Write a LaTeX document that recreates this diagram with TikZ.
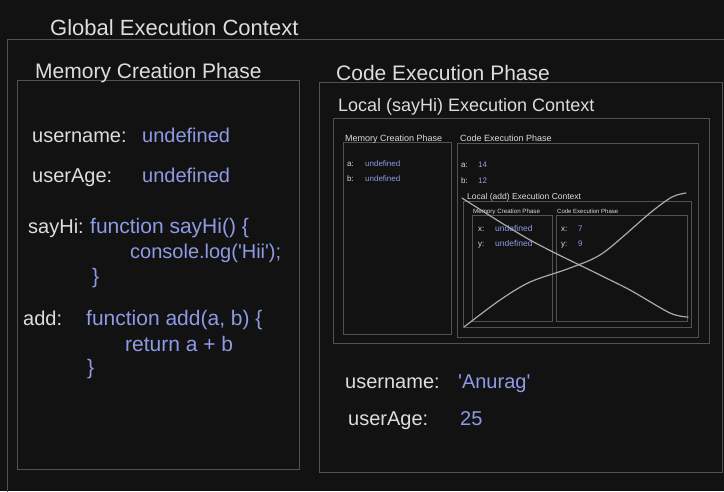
\documentclass[tikz,border=0pt]{standalone}
\usepackage{fontspec}
\setmainfont{Liberation Sans}
\usetikzlibrary{fit}
\definecolor{bg}{HTML}{121212}
\definecolor{boxline}{HTML}{525252}
\definecolor{txt}{HTML}{DDDDDD}
\definecolor{val}{HTML}{8E9AE6}
\definecolor{cross}{HTML}{AAAAAA}
\tikzset{
  box/.style={draw=boxline, line width=1pt, inner sep=0pt, fill=none},
  lbl/.style={text=txt, anchor=base west, inner sep=0pt},
  vl/.style={text=val, anchor=base west, inner sep=0pt},
  strike/.style={draw=cross, line width=1.2pt, line cap=round, line join=round},
}
\newcommand{\fs}[1]{\fontsize{#1}{#1}\selectfont}
\newcommand{\q}{\textquotesingle}
\begin{document}
\begin{tikzpicture}[x=1pt,y=-1pt]
\fill[bg] (0,0) rectangle (724,491);
\useasboundingbox (0,0) rectangle (724,491);
% boxes
\coordinate (g1) at (7,39); \coordinate (g2) at (740,500);
\node[box, fit=(g1)(g2)] (gec) {};
\coordinate (m1) at (17,80); \coordinate (m2) at (299,469);
\node[box, fit=(m1)(m2)] (mcp) {};
\coordinate (c1) at (319,82); \coordinate (c2) at (722,472);
\node[box, fit=(c1)(c2)] (cep) {};
\coordinate (l1) at (333,118); \coordinate (l2) at (709,343);
\node[box, fit=(l1)(l2)] (lsay) {};
\coordinate (sm1) at (343,142); \coordinate (sm2) at (451,334);
\node[box, fit=(sm1)(sm2)] (smcp) {};
\coordinate (sc1) at (457,143); \coordinate (sc2) at (698,337);
\node[box, fit=(sc1)(sc2)] (scep) {};
\coordinate (a1) at (463,201); \coordinate (a2) at (691,327);
\node[box, fit=(a1)(a2)] (ladd) {};
\coordinate (am1) at (472,215); \coordinate (am2) at (552,321);
\node[box, fit=(am1)(am2)] (amcp) {};
\coordinate (ac1) at (556,215); \coordinate (ac2) at (687,321);
\node[box, fit=(ac1)(ac2)] (acep) {};
% titles
\node[lbl, font=\fs{22}] (tg) at (50,35) {Global Execution Context};
\node[lbl, font=\fs{21}] (tm) at (35,78) {Memory Creation Phase};
\node[lbl, font=\fs{21}] (tc) at (336,80) {Code Execution Phase};
\node[lbl, font=\fs{18}] (tl) at (338,111) {Local (sayHi) Execution Context};
% global memory
\node[lbl, font=\fs{20}] (un) at (32,142) {username:};
\node[vl, font=\fs{20}] (unv) at (142,142) {undefined};
\node[lbl, font=\fs{20}] (ua) at (32,182) {userAge:};
\node[vl, font=\fs{20}] (uav) at (142,182) {undefined};
\node[lbl, font=\fs{20}] (sh) at (28,233) {sayHi:};
\node[vl, font=\fs{21}] (sh1) at (90,233) {function sayHi() \{};
\node[vl, font=\fs{20}] (sh2) at (130,258) {console.log(\q Hii\q);};
\node[vl, font=\fs{21}] (sh3) at (92,283) {\}};
\node[lbl, font=\fs{20}] (ad) at (23,325) {add:};
\node[vl, font=\fs{21}] (ad1) at (86,325) {function add(a, b) \{};
\node[vl, font=\fs{21}] (ad2) at (125,351) {return a + b};
\node[vl, font=\fs{21}] (ad3) at (87,374) {\}};
% global code execution
\node[lbl, font=\fs{20}] (bun) at (345,388) {username:};
\node[vl, font=\fs{20}] (bunv) at (458,388) {\q Anurag\q};
\node[lbl, font=\fs{20}] (bua) at (348,425) {userAge:};
\node[vl, font=\fs{20}] (buav) at (460,425) {25};
% sayHi context
\node[lbl, font=\fs{9}] (stm) at (345,141) {Memory Creation Phase};
\node[lbl, font=\fs{9}] (stc) at (460,141) {Code Execution Phase};
\node[lbl, font=\fs{8}] (sa) at (347,166) {a:};
\node[vl, font=\fs{8}] (sav) at (365,166) {undefined};
\node[lbl, font=\fs{8}] (sb) at (347,181) {b:};
\node[vl, font=\fs{8}] (sbv) at (365,181) {undefined};
\node[lbl, font=\fs{8}] (ca) at (461,167) {a:};
\node[vl, font=\fs{8}] (cav) at (478,167) {14};
\node[lbl, font=\fs{8}] (cb) at (461,183) {b:};
\node[vl, font=\fs{8}] (cbv) at (478,183) {12};
\node[lbl, font=\fs{8.5}] (tla) at (467,199) {Local (add) Execution Context};
% add context
\node[lbl, font=\fs{6.2}] (atm) at (473,213) {Memory Creation Phase};
\node[lbl, font=\fs{6}] (atc) at (557,213) {Code Execution Phase};
\node[lbl, font=\fs{8}] (ax) at (478,231) {x:};
\node[vl, font=\fs{8.5}] (axv) at (495,231) {undefined};
\node[lbl, font=\fs{8}] (ay) at (478,246) {y:};
\node[vl, font=\fs{8.5}] (ayv) at (495,246) {undefined};
\node[lbl, font=\fs{8}] (cx) at (561,231) {x:};
\node[vl, font=\fs{8}] (cxv) at (578,231) {7};
\node[lbl, font=\fs{8}] (cy) at (561,246) {y:};
\node[vl, font=\fs{8}] (cyv) at (578,246) {9};
% strike-through
\draw[strike] plot[smooth, tension=0.5] coordinates {(462,198) (530,240) (600,275) (630,290) (670,313) (688,317)};
\draw[strike] plot[smooth, tension=0.5] coordinates {(464,327) (500,300) (530,282) (570,268) (603,253) (650,213) (672,197) (686,193)};
\end{tikzpicture}
\end{document}
